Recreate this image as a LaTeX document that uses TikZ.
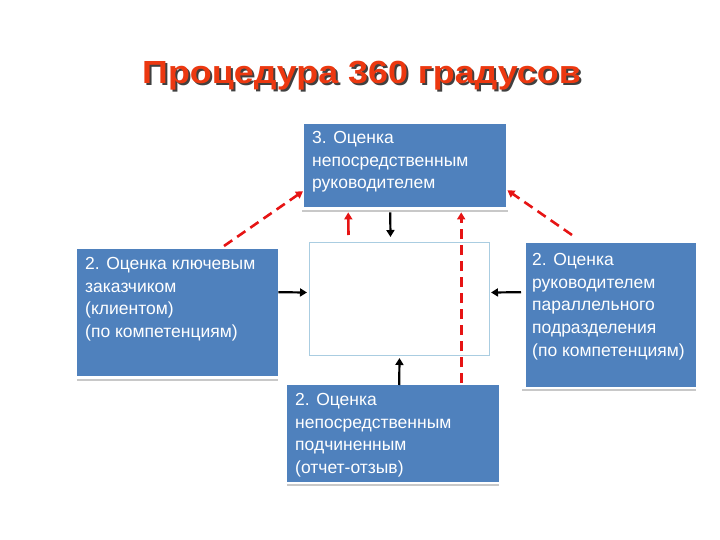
\documentclass[tikz,border=0pt]{standalone}
\usepackage{fontspec}
\setmainfont{Liberation Sans}
\usetikzlibrary{arrows.meta}
\definecolor{boxblue}{RGB}{79,129,189}
\definecolor{titlered}{RGB}{236,56,16}
\definecolor{edgeblue}{RGB}{170,205,225}
\definecolor{arrred}{RGB}{230,20,20}
\definecolor{linegray}{RGB}{200,200,200}
\tikzset{
  bluebox/.style={fill=boxblue, draw=none, inner sep=0pt, anchor=north west},
  boxtext/.style={text=white, inner sep=0pt, anchor=north west, align=left,
    font=\fontsize{17.5}{22.7}\selectfont},
  underline/.style={draw=linegray, line width=2pt},
  blackarrow/.style={draw=black, line width=2.2pt, -{Triangle[length=7pt,width=8pt]}},
  redarrow/.style={draw=arrred, line width=2.6pt, -{Triangle[length=7pt,width=8pt]}},
  reddash/.style={redarrow, dash pattern=on 10pt off 6pt},
  titlefont/.style={font=\bfseries\fontsize{32}{36}\selectfont, inner sep=0pt},
}
\newcommand{\wideT}[1]{\scalebox{1.12}[1]{#1}}
\begin{document}
\begin{tikzpicture}[x=1pt,y=-1pt]
\useasboundingbox (0,0) rectangle (720,540);
% title
\node[titlefont, text=black!75] (titleshadow) at (363.5,77.5) {\wideT{Процедура 360 градусов}};
\node[titlefont, text=titlered] (title) at (361.5,75.5) {\wideT{Процедура 360 градусов}};
% boxes
\node[bluebox, minimum width=202pt, minimum height=83pt] (top) at (304,124) {};
\node[bluebox, minimum width=201pt, minimum height=127pt] (left) at (77,249) {};
\node[bluebox, minimum width=170pt, minimum height=144pt] (right) at (526,243) {};
\node[bluebox, minimum width=212pt, minimum height=97pt] (bottom) at (287,385) {};
\node[draw=edgeblue, line width=1pt, fill=white, minimum width=180pt, minimum height=113pt, inner sep=0pt, anchor=north west] (center) at (309,242) {};
% underlines
\draw[underline] ([xshift=-2pt,yshift=-4pt]top.south west) -- ([xshift=2pt,yshift=-4pt]top.south east);
\draw[underline] ([yshift=-4pt]left.south west) -- ([yshift=-4pt]left.south east);
\draw[underline] ([xshift=-4pt,yshift=-3pt]right.south west) -- ([yshift=-3pt]right.south east);
\draw[underline] ([yshift=-2.5pt]bottom.south west) -- ([yshift=-2.5pt]bottom.south east);
% texts
\node[boxtext] (toptext) at (312,131) {3. Оценка\\непосредственным\\руководителем};
\node[boxtext] (lefttext) at (85,257) {2. Оценка ключевым\\заказчиком\\(клиентом)\\(по компетенциям)};
\node[boxtext] (righttext) at (532,253) {2. Оценка\\руководителем\\параллельного\\подразделения\\(по компетенциям)};
\node[boxtext] (bottomtext) at (295,393) {2. Оценка\\непосредственным\\подчиненным\\(отчет-отзыв)};
% black arrows
\draw[blackarrow] ([xshift=-15pt,yshift=-5pt]top.south) -- ([xshift=-9pt,yshift=5pt]center.north);
\draw[blackarrow] ([yshift=20.5pt]left.east) -- ([xshift=-2pt,yshift=6.5pt]center.west);
\draw[blackarrow] ([xshift=-5pt,yshift=23pt]right.west) -- ([xshift=1pt,yshift=6.5pt]center.east);
\draw[blackarrow] ([xshift=6pt]bottom.north) -- ([yshift=-2pt]center.south);
% red arrows
\draw[redarrow] ([xshift=-51pt,yshift=7pt]center.north) -- ([xshift=-57pt,yshift=-5pt]top.south);
\draw[reddash] ([xshift=68pt,yshift=2pt]bottom.north) -- ([xshift=56pt,yshift=-5pt]top.south);
\draw[reddash] ([xshift=147pt,yshift=3pt]left.north west) -- ([xshift=-1pt,yshift=-25.5pt]top.west);
\draw[reddash] ([xshift=46pt,yshift=8pt]right.north west) -- ([xshift=1pt,yshift=-24.5pt]top.east);
\end{tikzpicture}
\end{document}
